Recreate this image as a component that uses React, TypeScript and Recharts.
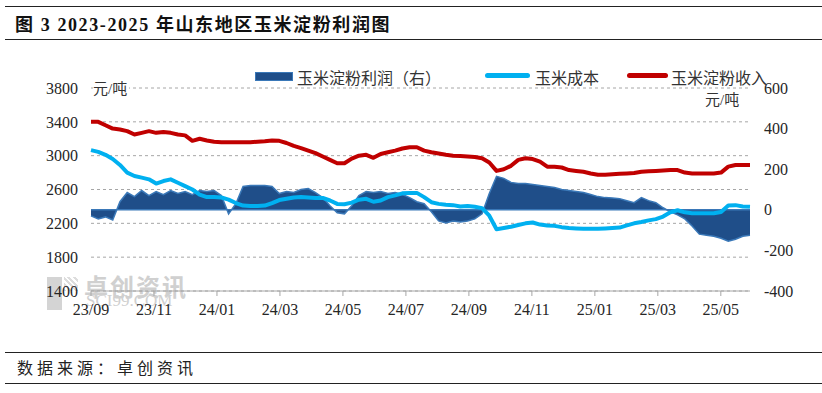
import React from "react";
import {
  ComposedChart,
  Area,
  Line,
  XAxis,
  YAxis,
  CartesianGrid,
  ReferenceLine,
} from "recharts";

// weekly readings, 2023-09 .. 2025-05 (week index = array index)
const income = [
  3400, 3400, 3360, 3320, 3310, 3290, 3250, 3270, 3290, 3270,
  3280, 3270, 3250, 3240, 3175, 3200, 3180, 3165, 3160, 3160,
  3160, 3160, 3160, 3165, 3170, 3180, 3175, 3150, 3115, 3090,
  3060, 3030, 2990, 2950, 2910, 2910, 2965, 3000, 3010, 2975,
  3020, 3040, 3060, 3085, 3100, 3100, 3060, 3040, 3025, 3010,
  3000, 2995, 2990, 2985, 2970, 2920, 2820, 2840, 2880, 2950,
  2970, 2960, 2930, 2870, 2870, 2860, 2830, 2820, 2810, 2790,
  2775, 2775, 2780, 2785, 2790, 2795, 2810, 2815, 2820, 2825,
  2830, 2830, 2800, 2790, 2790, 2790, 2790, 2800, 2870, 2890,
  2890, 2890,
];

const cost = [
  3065, 3045, 3010, 2960, 2890, 2800, 2760, 2740, 2720, 2670,
  2700, 2720, 2680, 2640, 2600, 2540, 2510, 2510, 2505, 2480,
  2440, 2410, 2405, 2405, 2410, 2440, 2475, 2490, 2505, 2510,
  2505, 2500, 2500, 2470, 2430, 2425, 2445, 2480, 2490, 2455,
  2470, 2510, 2530, 2555, 2560, 2560, 2510, 2450, 2430, 2420,
  2415, 2400, 2405, 2395, 2380, 2290, 2130, 2145, 2160, 2180,
  2200, 2210, 2185, 2175, 2170, 2155, 2145, 2140, 2135, 2135,
  2135, 2140, 2145, 2150, 2175, 2200, 2215, 2235, 2250, 2280,
  2330, 2355, 2330, 2320, 2320, 2320, 2320, 2335, 2410, 2415,
  2400, 2395,
];

const profit = [
  -30, -45, -35, -50, 40, 85, 65, 95, 70, 90,
  75, 95, 80, 90, 75, 95, 90, 95, 70, -20,
  30, 115, 120, 120, 120, 115, 80, 90, 85, 100,
  105, 85, 60, 20, -15, -20, 20, 70, 90, 85,
  90, 80, 85, 75, 60, 40, 30, -10, -55, -65,
  -55, -60, -55, -45, -20, 80, 165, 155, 135, 130,
  130, 125, 120, 115, 110, 100, 95, 90, 85, 75,
  65, 60, 58, 55, 45, 35, 60, 45, 35, 10,
  -10, -25, -45, -80, -120, -125, -130, -140, -155, -145,
  -130, -125,
];

const xTickLabels = [
  "23/09", "23/11", "24/01", "24/03", "24/05", "24/07",
  "24/09", "24/11", "25/01", "25/03", "25/05",
];
const xTickWeeks = xTickLabels.map((_, i) => (i * 2 * 30.44) / 7);

const leftTicks = [1400, 1800, 2200, 2600, 3000, 3400, 3800];
const rightTicks = [-400, -200, 0, 200, 400, 600];

const data = income.map((v, i) => ({
  w: i,
  income: v,
  cost: cost[i],
  profit: profit[i],
}));

const SERIF = '"Liberation Serif", "Times New Roman", serif';
const CJK = '"Liberation Serif", "Noto Sans CJK SC", serif';
const AREA_FILL = "#1F4E89";
const AREA_EDGE = "#3A78B8";
const COST = "#00B0F0";
const INCOME = "#C00000";

const tickStyle = { fontSize: 16, fill: "#262626", fontFamily: SERIF };

export default function App() {
  return (
    <div
      style={{
        position: "absolute",
        left: 0,
        top: 0,
        width: 822,
        height: 393,
        background: "#fff",
        overflow: "hidden",
        fontFamily: CJK,
      }}
    >
      {/* title */}
      <div style={{ position: "absolute", left: 5, right: 0, top: 6, borderTop: "1.5px solid #222" }} />
      <div
        style={{
          position: "absolute",
          left: 15,
          top: 10,
          fontSize: 18,
          fontWeight: "bold",
          color: "#111",
          letterSpacing: 1.6,
          whiteSpace: "nowrap",
        }}
      >
        图 3 2023-2025 年山东地区玉米淀粉利润图
      </div>
      <div style={{ position: "absolute", left: 5, right: 0, top: 39, borderTop: "1.5px solid #222" }} />

      {/* watermark */}
      <div style={{ position: "absolute", left: 47, top: 277, width: 15, height: 33, background: "#D4D4D4" }} />
      <div style={{ position: "absolute", left: 64, top: 277, width: 14, height: 14, background: "repeating-linear-gradient(45deg,#ddd 0 2px,#fff 2px 4px)" }} />
      <div
        style={{
          position: "absolute",
          left: 84,
          top: 268,
          fontSize: 24,
          fontWeight: "bold",
          color: "#D0D0D0",
          fontFamily: '"Noto Sans CJK SC", sans-serif',
          letterSpacing: 2,
          whiteSpace: "nowrap",
        }}
      >
        卓创资讯
      </div>
      <div
        style={{
          position: "absolute",
          left: 86,
          top: 291,
          fontSize: 17,
          color: "#D0D0D0",
          fontFamily: SERIF,
          whiteSpace: "nowrap",
        }}
      >
        SCI99.COM
      </div>

      <div style={{ position: "absolute", left: 0, top: 0 }}>
        <ComposedChart
          width={822}
          height={393}
          data={data}
          margin={{ top: 88, right: 12, bottom: 72, left: 41 }}
        >
          <CartesianGrid
            yAxisId="left"
            vertical={false}
            stroke="#A6A6A6"
            strokeDasharray="3 3"
          />
          <XAxis
            dataKey="w"
            type="number"
            domain={[0, 91]}
            ticks={xTickWeeks}
            interval={0}
            tickFormatter={(_v: number, i: number) => xTickLabels[i]}
            tick={tickStyle}
            stroke="#A6A6A6"
            tickSize={5}
            tickMargin={8}
            height={30}
          />
          <YAxis
            yAxisId="left"
            domain={[1400, 3800]}
            ticks={leftTicks}
            interval={0}
            axisLine={false}
            tickLine={false}
            tickSize={0}
            tickMargin={13}
            tick={tickStyle}
            width={50}
          />
          <YAxis
            yAxisId="right"
            orientation="right"
            domain={[-400, 600]}
            ticks={rightTicks}
            interval={0}
            axisLine={false}
            tickLine={false}
            tickSize={0}
            tickMargin={14}
            tick={tickStyle}
            width={60}
          />
          <Area
            yAxisId="right"
            type="linear"
            dataKey="profit"
            baseValue={0}
            fill={AREA_FILL}
            fillOpacity={1}
            stroke={AREA_EDGE}
            strokeWidth={1.5}
            isAnimationActive={false}
          />
          <ReferenceLine yAxisId="right" y={0} stroke={AREA_EDGE} strokeWidth={1.5} />
          <Line
            yAxisId="left"
            type="linear"
            dataKey="cost"
            stroke={COST}
            strokeWidth={4}
            dot={false}
            strokeLinejoin="round"
            isAnimationActive={false}
          />
          <Line
            yAxisId="left"
            type="linear"
            dataKey="income"
            stroke={INCOME}
            strokeWidth={4}
            dot={false}
            strokeLinejoin="round"
            isAnimationActive={false}
          />
        </ComposedChart>
      </div>

      {/* units */}
      <div style={{ position: "absolute", left: 93, top: 77, fontSize: 15, color: "#333", background: "#fff", paddingRight: 2, whiteSpace: "nowrap" }}>元/吨</div>
      <div style={{ position: "absolute", left: 705, top: 88, fontSize: 15, color: "#333", whiteSpace: "nowrap" }}>元/吨</div>

      {/* legend */}
      <div style={{ position: "absolute", left: 255, top: 72, width: 36, height: 7, background: AREA_FILL, border: `1px solid ${AREA_EDGE}` }} />
      <div style={{ position: "absolute", left: 297, top: 65, fontSize: 16, color: "#333", whiteSpace: "nowrap" }}>玉米淀粉利润（右）</div>
      <div style={{ position: "absolute", left: 485, top: 73, width: 45, height: 5, borderRadius: 3, background: COST }} />
      <div style={{ position: "absolute", left: 535, top: 65, fontSize: 16, color: "#333", whiteSpace: "nowrap" }}>玉米成本</div>
      <div style={{ position: "absolute", left: 627, top: 73, width: 41, height: 5, borderRadius: 3, background: INCOME }} />
      <div style={{ position: "absolute", left: 671, top: 65, fontSize: 16, color: "#333", whiteSpace: "nowrap" }}>玉米淀粉收入</div>

      {/* footer */}
      <div style={{ position: "absolute", left: 5, right: 0, top: 352, borderTop: "1.5px solid #222" }} />
      <div style={{ position: "absolute", left: 17, top: 355, fontSize: 16, color: "#222", letterSpacing: 4, whiteSpace: "nowrap" }}>
        数据来源：卓创资讯
      </div>
      <div style={{ position: "absolute", left: 5, right: 0, top: 383, borderTop: "1.5px solid #222" }} />
    </div>
  );
}
